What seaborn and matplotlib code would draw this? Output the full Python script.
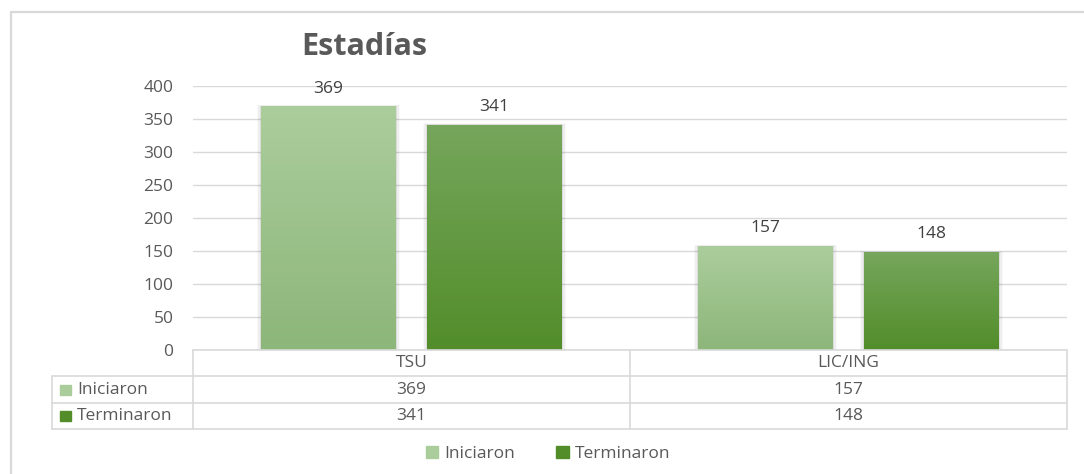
import numpy as np
import pandas as pd
import seaborn as sns
import matplotlib.pyplot as plt
from matplotlib.colors import LinearSegmentedColormap
from matplotlib.patches import Rectangle
from matplotlib.lines import Line2D

# Data
categories = ["TSU", "LIC/ING"]
series_names = ["Iniciaron", "Terminaron"]
iniciaron = [369, 157]
terminaron = [341, 148]
y_ticks = [0, 50, 100, 150, 200, 250, 300, 350, 400]
title = "Estadías"

df = pd.DataFrame({
    "categoria": categories * 2,
    "serie": [series_names[0]] * len(categories) + [series_names[1]] * len(categories),
    "valor": iniciaron + terminaron,
})

sns.set_theme(style="white")
plt.rcParams["font.family"] = ["Open Sans", "DejaVu Sans"]

W, H = 1084, 474
fig = plt.figure(figsize=(W / 100, H / 100), dpi=100)
fig.patch.set_facecolor("white")

def fx(px):
    return px / W

def fy(py):
    return 1 - py / H

FS = 12.5
txt_c = "#595959"

# outer chart frame
fig.add_artist(Line2D([fx(11), fx(11)], [fy(12), fy(474)], color="#d9d9d9", lw=1.6))
fig.add_artist(Line2D([fx(11), fx(1084)], [fy(12), fy(12)], color="#d9d9d9", lw=1.6))

ax_left, ax_right, ax_top, ax_bottom = 193, 1067, 86, 350
ax = fig.add_axes([fx(ax_left), fy(ax_bottom), fx(ax_right - ax_left), (ax_bottom - ax_top) / H])

light_top, light_bot = "#abcd9c", "#8db67a"
dark_top, dark_bot = "#76a65c", "#528d2a"
palette = {series_names[0]: light_bot, series_names[1]: dark_bot}

sns.barplot(data=df, x="categoria", y="valor", hue="serie", palette=palette,
            width=0.76, gap=0.19, ax=ax, legend=False, saturation=1)

ax.set_ylim(0, 400)
ax.set_xlim(-0.5, 1.5)
ax.set_yticks(y_ticks)
ax.set_yticklabels([str(t) for t in y_ticks], color=txt_c, fontsize=FS)
ax.tick_params(axis="y", length=0, pad=14)
ax.set_xticks([])
ax.set_xlabel("")
ax.set_ylabel("")
for s in ax.spines.values():
    s.set_visible(False)
ax.yaxis.grid(True, color="#d9d9d9", lw=1)
ax.set_axisbelow(True)

# gradient fill and soft side shadow for each bar
grads = {light_bot: (light_top, light_bot), dark_bot: (dark_top, dark_bot)}
bars = list(ax.patches)
for bar in bars:
    fc = bar.get_facecolor()
    key = light_bot if abs(fc[1] - 0.714) < 0.02 else dark_bot
    top_c, bot_c = grads[key]
    cmap = LinearSegmentedColormap.from_list("g", [bot_c, top_c])
    x0, w, h = bar.get_x(), bar.get_width(), bar.get_height()
    for k, a in enumerate([0.07, 0.045, 0.025]):
        d = 0.0035 * (k + 1)
        ax.add_patch(Rectangle((x0 - d, 0), w + 2 * d, h + 0.8 * (k + 1), color="black",
                               alpha=a, lw=0, zorder=2))
    grad = np.linspace(0, 1, 256).reshape(-1, 1)
    im = ax.imshow(grad, cmap=cmap, origin="lower", aspect="auto",
                   extent=(x0, x0 + w, 0, h), zorder=3)
    im.set_clip_path(bar)
    bar.set_facecolor("none")
    bar.set_edgecolor("none")
    bar.set_zorder(3)
    ax.text(x0 + w / 2, h + 15, f"{int(h)}", ha="center", va="bottom",
            fontsize=FS, color="#404040", zorder=4)

# title
fig.text(fx(364), fy(47), title, ha="center", va="center", fontsize=22,
         fontweight="bold", color=txt_c)

# data table below the axis
line_c = "#d9d9d9"
tbl_left, col1, col2, tbl_right = 52, 193, 630, 1067
rows_y = [350, 376, 403, 429]

def hline(x0, x1, y):
    fig.add_artist(Line2D([fx(x0), fx(x1)], [fy(y), fy(y)], color=line_c, lw=1.2))

def vline(x, y0, y1):
    fig.add_artist(Line2D([fx(x), fx(x)], [fy(y0), fy(y1)], color=line_c, lw=1.2))

hline(col1, tbl_right, rows_y[0])
hline(tbl_left, tbl_right, rows_y[1])
hline(tbl_left, tbl_right, rows_y[2])
hline(tbl_left, tbl_right, rows_y[3])
vline(tbl_left, rows_y[1], rows_y[3])
vline(col1, rows_y[0], rows_y[3])
vline(col2, rows_y[0], rows_y[3])
vline(tbl_right, rows_y[0], rows_y[3])

col_centers = [(col1 + col2) / 2, (col2 + tbl_right) / 2]
for cx, cat in zip(col_centers, categories):
    fig.text(fx(cx), fy((rows_y[0] + rows_y[1]) / 2), cat, ha="center", va="center",
             fontsize=FS, color=txt_c)

row_series = [(series_names[0], iniciaron, light_top), (series_names[1], terminaron, dark_bot)]
for r, (name, vals, col) in enumerate(row_series):
    yc = (rows_y[r + 1] + rows_y[r + 2]) / 2
    fig.add_artist(Rectangle((fx(60), fy(yc + 5)), fx(11), 10 / H, color=col,
                             transform=fig.transFigure))
    fig.text(fx(77), fy(yc), name, ha="left", va="center", fontsize=FS, color=txt_c)
    for cx, v in zip(col_centers, vals):
        fig.text(fx(cx), fy(yc), str(v), ha="center", va="center", fontsize=FS, color=txt_c)

# legend
handles = [Rectangle((0, 0), 1, 1, color=light_top), Rectangle((0, 0), 1, 1, color=dark_bot)]
fig.legend(handles, series_names, loc="center", bbox_to_anchor=(fx(548), fy(454)),
           ncol=2, frameon=False, fontsize=FS, handlelength=0.7, handleheight=0.7,
           handletextpad=0.35, columnspacing=2.4, labelcolor=txt_c)

fig.savefig("out.png", dpi=100, facecolor="white")
